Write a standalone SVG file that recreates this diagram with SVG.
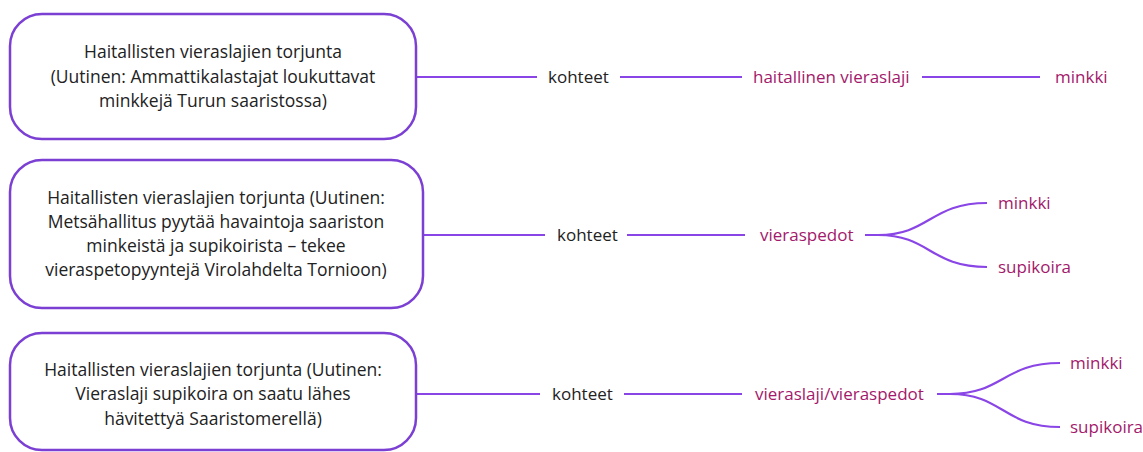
<svg xmlns="http://www.w3.org/2000/svg" width="1143" height="452" viewBox="0 0 1143 452">
<style>
.box{fill:#fff;stroke:#7b3fd4;stroke-width:2.5}
.bt{font-family:"Open Sans","DejaVu Sans",sans-serif;font-size:17.5px;fill:#222;text-anchor:middle}
.k{font-family:"Open Sans","DejaVu Sans",sans-serif;font-size:17px;fill:#222}
.lb{font-family:"Open Sans","DejaVu Sans",sans-serif;font-size:17px;fill:#a3196b}
.ln{fill:none;stroke:#8a45e6;stroke-width:2.2}
</style>
<rect width="1143" height="452" fill="#fff"/>
<g id="connectors">
<path class="ln" d="M416 77H537M620 77H742M922 77H1040"/>
<path class="ln" d="M423 235H545M627 235H745"/>
<path class="ln" d="M865 235H878C930 235 930 203 987 203M878 235C930 235 930 267 987 267"/>
<path class="ln" d="M416 394H540M624 394H742"/>
<path class="ln" d="M937 394H950C1003 394 1003 363 1060 363M950 394C1003 394 1003 427 1060 427"/>
</g>
<g id="n1">
<rect class="box" x="10" y="14" width="406" height="125" rx="32"/>
<text class="bt" x="213" y="58">Haitallisten vieraslajien torjunta</text>
<text class="bt" x="213" y="83">(Uutinen: Ammattikalastajat loukuttavat</text>
<text class="bt" x="213" y="107">minkkejä Turun saaristossa)</text>
</g>
<g id="n2">
<rect class="box" x="10" y="160" width="413" height="148" rx="32"/>
<text class="bt" x="216" y="204">Haitallisten vieraslajien torjunta (Uutinen:</text>
<text class="bt" x="216" y="228">Metsähallitus pyytää havaintoja saariston</text>
<text class="bt" x="216" y="252">minkeistä ja supikoirista – tekee</text>
<text class="bt" x="216" y="276">vieraspetopyyntejä Virolahdelta Tornioon)</text>
</g>
<g id="n3">
<rect class="box" x="10" y="333" width="406" height="117" rx="32"/>
<text class="bt" x="213" y="376">Haitallisten vieraslajien torjunta (Uutinen:</text>
<text class="bt" x="213" y="400">Vieraslaji supikoira on saatu lähes</text>
<text class="bt" x="213" y="425">hävitettyä Saaristomerellä)</text>
</g>
<g id="r1">
<text class="k" x="548" y="83">kohteet</text>
<text class="lb" x="753" y="83">haitallinen vieraslaji</text>
<text class="lb" x="1055" y="83">minkki</text>
</g>
<g id="r2">
<text class="k" x="557" y="241">kohteet</text>
<text class="lb" x="760" y="241">vieraspedot</text>
<text class="lb" x="998" y="209">minkki</text>
<text class="lb" x="998" y="273">supikoira</text>
</g>
<g id="r3">
<text class="k" x="552" y="400">kohteet</text>
<text class="lb" x="755" y="400">vieraslaji/vieraspedot</text>
<text class="lb" x="1070" y="369">minkki</text>
<text class="lb" x="1070" y="433">supikoira</text>
</g>
</svg>
